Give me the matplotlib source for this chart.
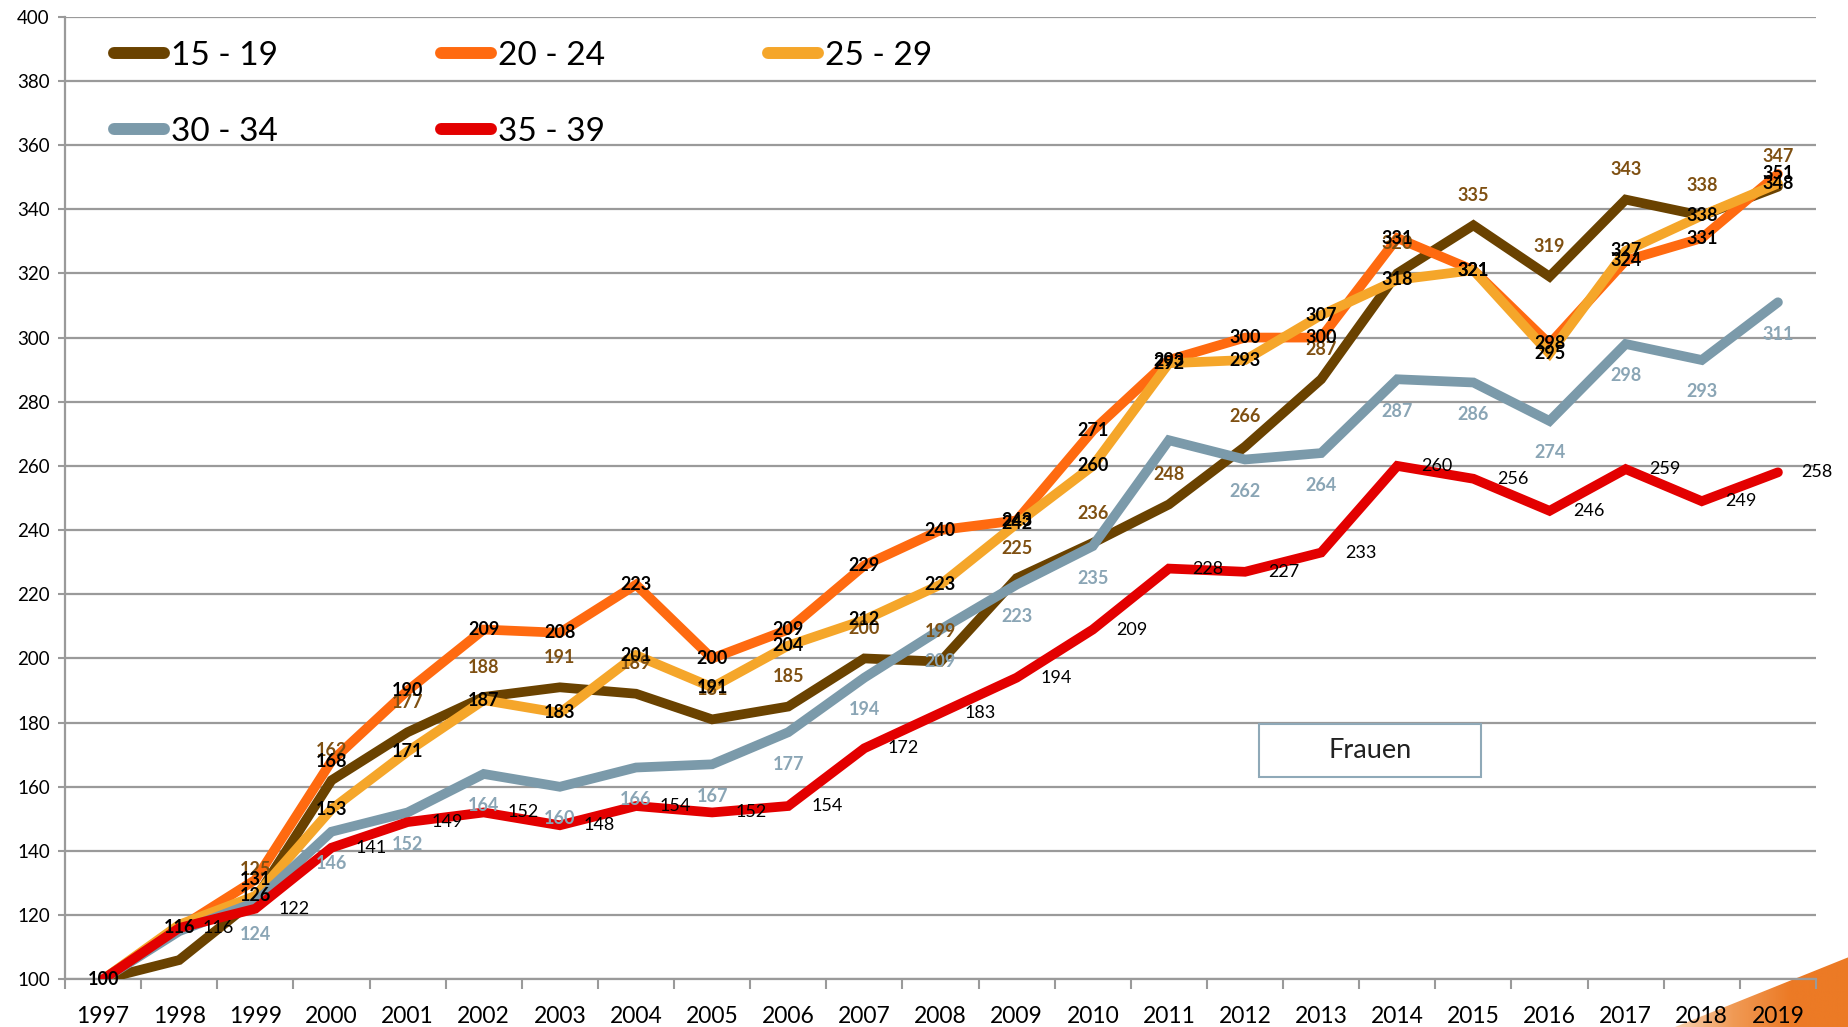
import numpy as np
import matplotlib.pyplot as plt
from matplotlib.patches import Polygon, Rectangle
from matplotlib.colors import LinearSegmentedColormap

# =========================
# Data
# =========================
years = [str(y) for y in range(1997, 2020)]
series_names = ["15 - 19", "20 - 24", "25 - 29", "30 - 34", "35 - 39"]

age_15_19 = [100, 106, 125, 162, 177, 188, 191, 189, 181, 185, 200, 199,
             225, 236, 248, 266, 287, 320, 335, 319, 343, 338, 347]
age_20_24 = [100, 116, 131, 168, 190, 209, 208, 223, 200, 209, 229, 240,
             243, 271, 293, 300, 300, 331, 321, 298, 324, 331, 351]
age_25_29 = [100, 117, 126, 153, 171, 187, 183, 201, 191, 204, 212, 223,
             242, 260, 292, 293, 307, 318, 321, 295, 327, 338, 348]
age_30_34 = [100, 115, 124, 146, 152, 164, 160, 166, 167, 177, 194, 209,
             223, 235, 268, 262, 264, 287, 286, 274, 298, 293, 311]
age_35_39 = [100, 116, 122, 141, 149, 152, 148, 154, 152, 154, 172, 183,
             194, 209, 228, 227, 233, 260, 256, 246, 259, 249, 258]

all_series = [age_15_19, age_20_24, age_25_29, age_30_34, age_35_39]

# labels that are not shown in the original (series index, year index)
hidden_labels = {(0, 0), (0, 1), (2, 0), (2, 1), (3, 0), (3, 1), (3, 14), (4, 0)}

# =========================
# Style
# =========================
plt.rcParams["font.family"] = ["Lato", "DejaVu Sans"]

line_colors = ["#6A4200", "#FF6A10", "#F5A62A", "#7B9AAA", "#E30000"]
label_colors = ["#7F5012", "black", "black", "#8AA5B5", "black"]
label_weights = ["bold", "bold", "bold", "bold", "normal"]
# offsets in points (dx, dy), horizontal alignment
label_offsets = [(0, 21.5, "center"), (0, 0, "center"), (0, 0, "center"),
                 (0, -23, "center"), (17, 0, "left")]
grid_color = "#9A9A9A"

W, H = 1849, 1027
fig = plt.figure(figsize=(W / 100, H / 100), dpi=100)

# decorative orange corner (drawn behind the chart)
deco = fig.add_axes([0, 0, 1, 1], zorder=0)
deco.set_xlim(0, W)
deco.set_ylim(H, 0)
deco.axis("off")
tri = Polygon([(1675, 1027), (1849, 957), (1849, 1027)], closed=True,
              facecolor="none", edgecolor="none")
deco.add_patch(tri)
cmap = LinearSegmentedColormap.from_list(
    "corner", ["#F8D2B2", "#F09A55", "#EC7A25", "#EC7A25"])
grad = np.linspace(0, 1, 256).reshape(1, -1)
img = deco.imshow(grad, cmap=cmap, extent=(1675, 1849, 1027, 955),
                  aspect="auto")
img.set_clip_path(tri)

ax = fig.add_axes([65 / W, 1 - 979.3 / H, (1816 - 65) / W, (979.3 - 16.7) / H],
                  zorder=1)
ax.patch.set_alpha(0)

x = np.arange(len(years))

lines = []
for i, (vals, name) in enumerate(zip(all_series, series_names)):
    ln, = ax.plot(x, vals, color=line_colors[i], linewidth=7,
                  solid_capstyle="round", solid_joinstyle="miter",
                  label=name, zorder=3 + i)
    lines.append(ln)

# =========================
# Value labels
# =========================
for i, vals in enumerate(all_series):
    dx, dy, ha = label_offsets[i]
    for xi, v in zip(x, vals):
        if (i, int(xi)) in hidden_labels:
            continue
        ax.annotate(f"{v}", (xi, v), xytext=(dx, dy), textcoords="offset points",
                    ha=ha, va="center", fontsize=13,
                    fontweight=label_weights[i], color=label_colors[i],
                    zorder=20 + i, annotation_clip=False)

# =========================
# Axes
# =========================
ax.set_xlim(-0.5, len(years) - 0.5)
ax.set_ylim(100, 400)
ax.set_yticks(np.arange(100, 401, 20))
ax.yaxis.grid(True, color=grid_color, linewidth=1.6)
ax.set_axisbelow(True)

ax.set_xticks(np.arange(-0.5, len(years), 1))
ax.set_xticklabels([])
ax.set_xticks(x, minor=True)
ax.set_xticklabels(years, minor=True)
ax.tick_params(axis="x", which="major", length=7, width=1.5, color=grid_color)
ax.tick_params(axis="x", which="minor", length=0, labelsize=16.5, pad=19)
ax.tick_params(axis="y", length=5, width=1.5, color=grid_color, labelsize=13.5, pad=6)

for side in ["top", "right"]:
    ax.spines[side].set_visible(False)
for side in ["left", "bottom"]:
    ax.spines[side].set_color(grid_color)
    ax.spines[side].set_linewidth(1.6)

# =========================
# Legend (row-major order in 3 columns)
# =========================
order = [0, 3, 1, 4, 2]
leg = fig.legend([lines[k] for k in order], [series_names[k] for k in order],
                 loc="upper left", bbox_to_anchor=(114 / W, 1 - 41 / H),
                 ncol=3, frameon=False, fontsize=24, handlelength=1.5,
                 handletextpad=0.2, columnspacing=4.9, labelspacing=1.38,
                 borderpad=0, borderaxespad=0)
for h in leg.legend_handles:
    h.set_linewidth(8.6)
    h.set_solid_capstyle("round")

# =========================
# "Frauen" box
# =========================
box = Rectangle((1259 / W, 1 - 777 / H), (1481 - 1259) / W, (777 - 724) / H,
                transform=fig.transFigure, facecolor="white",
                edgecolor="#8FA9B8", linewidth=1.5, zorder=30)
fig.patches.append(box)
fig.text(1370 / W, 1 - 751 / H, "Frauen", ha="center", va="center",
         fontsize=19.5, color="#222222", zorder=31)

plt.savefig("out.png", dpi=100)
